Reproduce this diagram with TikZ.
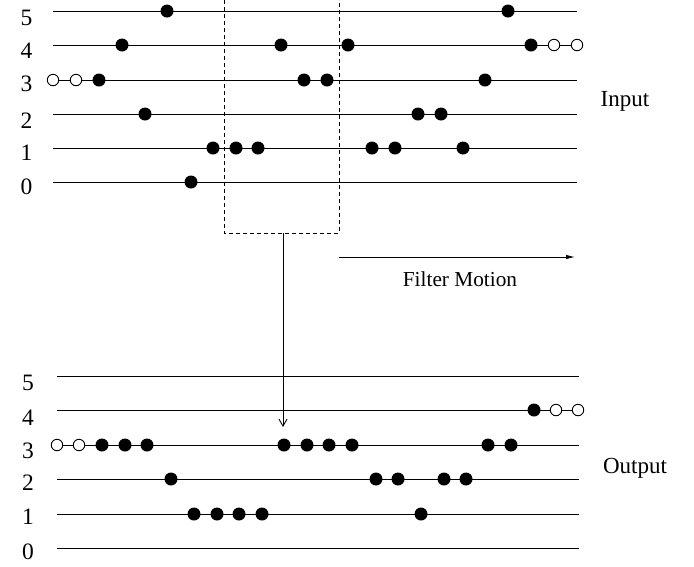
\documentclass[tikz,border=0pt]{standalone}
\usepackage{fontspec}
\setmainfont{Liberation Serif}
\usetikzlibrary{arrows.meta}
\begin{document}
\begin{tikzpicture}[x=1pt,y=-1pt,
  rowline/.style={line width=1pt},
  full/.style={circle,fill=black,inner sep=0pt,minimum size=13pt},
  hollow/.style={circle,draw=black,fill=white,line width=0.9pt,inner sep=0pt,minimum size=11.5pt},
  digit/.style={font=\fontsize{23.5}{26}\selectfont,inner sep=0pt},
  biglab/.style={font=\fontsize{23}{26}\selectfont,inner sep=0pt},
  smalllab/.style={font=\fontsize{21.3}{24}\selectfont,inner sep=0pt},
  filterbox/.style={line width=0.8pt,dash pattern=on 4pt off 3pt}]
\useasboundingbox (0,0) rectangle (694,566);
% ---------- top (input) rows ----------
\foreach \r/\yy/\ly in {5/11/18,4/45/50.5,3/80/83.5,2/114/120.5,1/148/153,0/182/186.5}{
  \coordinate (tL\r) at (53,\yy);
  \coordinate (tR\r) at (577,\yy);
  \draw[rowline] (tL\r) -- (tR\r);
  \node[digit] (tn\r) at (26.5,\ly) {\r};
}
% ---------- bottom (output) rows ----------
\foreach \r/\yy/\ly in {5/376/382.5,4/410/417.5,3/445/450.5,2/479/483,1/514/516.5,0/548/551.5}{
  \coordinate (bL\r) at (57,\yy);
  \coordinate (bR\r) at (579,\yy);
  \draw[rowline] (bL\r) -- (bR\r);
  \node[digit] (bn\r) at (28,\ly) {\r};
}
% ---------- filter window ----------
\coordinate (fa) at (224,0);
\coordinate (fb) at (224,233);
\coordinate (fc) at (339,233);
\coordinate (fd) at (339,0);
\draw[filterbox] (fa) -- (fb) -- (fc) -- (fd);
\coordinate (fm) at (283,233);
\coordinate (ar) at (283,427);
\draw[line width=0.8pt,-{Straight Barb[length=7pt,width=8pt,line width=0.9pt]}] (fm) -- (ar);
% ---------- filter motion ----------
\coordinate (m1) at (339,257);
\coordinate (m2) at (575,257);
\draw[line width=0.9pt,-{Latex[length=9pt,width=4.5pt]}] (m1) -- (m2);
\node[smalllab] (fmt) at (460,279) {Filter Motion};
\node[biglab] (inp) at (625,101) {Input};
\node[biglab] (outp) at (635,468) {Output};
% ---------- top dots ----------
\foreach \x [count=\i] in {167,508} \node[full] (t5-\i) at (\x,11) {};
\foreach \x [count=\i] in {122,281,348,531} \node[full] (t4-\i) at (\x,45) {};
\foreach \x [count=\i] in {554,577} \node[hollow] (t4o-\i) at (\x,45) {};
\foreach \x [count=\i] in {53,76} \node[hollow] (t3o-\i) at (\x,80) {};
\foreach \x [count=\i] in {99,304,327,485} \node[full] (t3-\i) at (\x,80) {};
\foreach \x [count=\i] in {145,418,441} \node[full] (t2-\i) at (\x,114) {};
\foreach \x [count=\i] in {213,236,258,372,395,463} \node[full] (t1-\i) at (\x,148) {};
\foreach \x [count=\i] in {191} \node[full] (t0-\i) at (\x,182) {};
% ---------- bottom dots ----------
\foreach \x [count=\i] in {534} \node[full] (b4-\i) at (\x,410) {};
\foreach \x [count=\i] in {556,578} \node[hollow] (b4o-\i) at (\x,410) {};
\foreach \x [count=\i] in {57,79} \node[hollow] (b3o-\i) at (\x,445) {};
\foreach \x [count=\i] in {102,125,147,284,307,329,352,488,511} \node[full] (b3-\i) at (\x,445) {};
\foreach \x [count=\i] in {171,376,398,444,466} \node[full] (b2-\i) at (\x,479) {};
\foreach \x [count=\i] in {194,217,239,262,421} \node[full] (b1-\i) at (\x,514) {};
\end{tikzpicture}
\end{document}
